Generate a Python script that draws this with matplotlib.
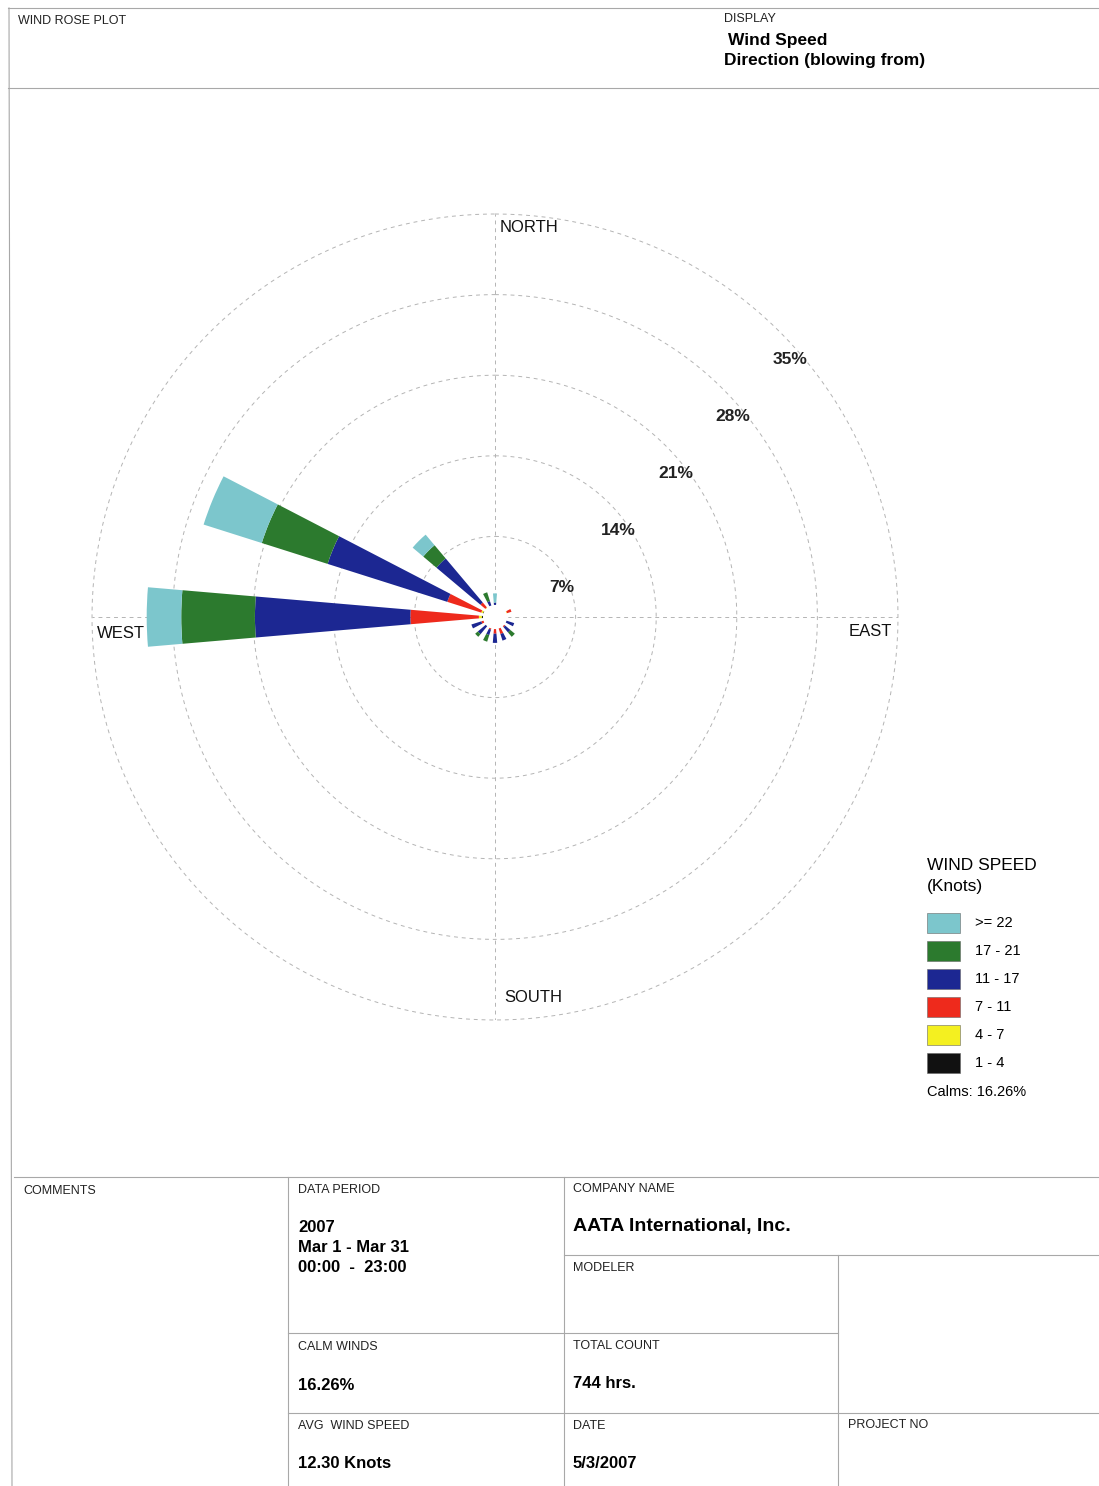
"""Wind rose plot page for March 2007 (16 directions, six speed classes)."""

import numpy as np
import matplotlib.pyplot as plt
from matplotlib.patches import Rectangle

# ---- data -------------------------------------------------------------
directions = ["N", "NNE", "NE", "ENE", "E", "ESE", "SE", "SSE",
              "S", "SSW", "SW", "WSW", "W", "WNW", "NW", "NNW"]
speed_bins = ["1 - 4", "4 - 7", "7 - 11", "11 - 17", "17 - 21", ">= 22"]

# frequency (%) per direction for each speed class
pct_1_4 = [0, 0, 0, 0, 0, 0, 0, 0, 0, 0, 0, 0, 0.10, 0.05, 0, 0]
pct_4_7 = [0, 0, 0, 0.05, 0, 0, 0, 0, 0, 0, 0, 0, 0.25, 0.15, 0.05, 0]
pct_7_11 = [0, 0, 0, 0.40, 0, 0, 0.1, 0.5, 0.4, 0.1, 0, 0.2, 5.95, 3.10, 0.55, 0]
pct_11_17 = [0.2, 0, 0, 0, 0, 0.7, 0.6, 0.6, 0.8, 0.5, 0.9, 0.9, 13.50, 10.90, 5.00, 0.4]
pct_17_21 = [0, 0, 0, 0, 0, 0, 0.5, 0, 0, 0.6, 0.3, 0, 6.40, 6.00, 1.50, 0.8]
pct_ge_22 = [0.8, 0, 0, 0, 0, 0, 0, 0, 0, 0, 0, 0, 3.00, 5.30, 1.20, 0]

ring_values = [7, 14, 21, 28, 35]
calms_pct = 16.26

colors = ["#111111", "#f4f020", "#ee2a1c", "#1c2792", "#2c7a2e", "#7cc6cc"]

W, H = 1099, 1486
fig = plt.figure(figsize=(W / 100, H / 100), dpi=100)
plt.rcParams["font.family"] = ["Liberation Sans", "DejaVu Sans"]

# page layer in pixel coordinates (frame lines and text blocks)
page = fig.add_axes([0, 0, 1, 1])
page.set_xlim(0, W)
page.set_ylim(H, 0)
page.axis("off")

line_kw = dict(color="#a8a8a8", lw=0.8)
page.plot([8, W], [8, 8], **line_kw)
page.plot([8, W], [88, 88], **line_kw)
page.plot([9, 12], [8, H], **line_kw)
# bottom table
page.plot([14, W], [1177, 1177], **line_kw)
page.plot([288, 288], [1177, H], **line_kw)
page.plot([564, 564], [1177, H], **line_kw)
page.plot([838, 838], [1255, H], **line_kw)
page.plot([564, W], [1255, 1255], **line_kw)
page.plot([288, 838], [1333, 1333], **line_kw)
page.plot([288, W], [1413, 1413], **line_kw)

small = dict(fontsize=9, va="center", ha="left", color="#222222")
value = dict(fontsize=12, fontweight="bold", va="center", ha="left")

page.text(18, 21, "WIND ROSE PLOT", **small)
page.text(724, 19, "DISPLAY", **small)
page.text(728, 41, "Wind Speed", fontsize=12.5, fontweight="bold", va="center")
page.text(724, 61, "Direction (blowing from)", fontsize=12.5, fontweight="bold", va="center")

page.text(23, 1191, "COMMENTS", **small)
page.text(298, 1190, "DATA PERIOD", **small)
page.text(298, 1227, "2007", **value)
page.text(298, 1247, "Mar 1 - Mar 31", **value)
page.text(298, 1267, "00:00  -  23:00", **value)
page.text(573, 1189, "COMPANY NAME", **small)
page.text(573, 1227, "AATA International, Inc.", fontsize=14, fontweight="bold", va="center")
page.text(573, 1268, "MODELER", **small)
page.text(298, 1347, "CALM WINDS", **small)
page.text(298, 1385, f"{calms_pct:.2f}%", **value)
page.text(573, 1346, "TOTAL COUNT", **small)
page.text(573, 1384, "744 hrs.", **value)
page.text(298, 1426, "AVG  WIND SPEED", **small)
page.text(298, 1463, "12.30 Knots", **value)
page.text(573, 1426, "DATE", **small)
page.text(573, 1463, "5/3/2007", **value)
page.text(848, 1425, "PROJECT NO", **small)

# ---- wind rose ----------------------------------------------------------
cx, cy, r_px = 495, 617, 403
r_max = ring_values[-1]
ax = fig.add_axes([(cx - r_px) / W, (H - cy - r_px) / H, 2 * r_px / W, 2 * r_px / H],
                  projection="polar")
ax.set_facecolor("none")
ax.set_theta_zero_location("N")
ax.set_theta_direction(-1)
ax.set_ylim(0, r_max)

hub = 1.05  # calm circle radius, in % units
theta = np.deg2rad(np.arange(len(directions)) * 22.5)
width = np.deg2rad(9.8)

series = [pct_1_4, pct_4_7, pct_7_11, pct_11_17, pct_17_21, pct_ge_22]
bottom = np.full(len(directions), hub)
for vals, col in zip(series, colors):
    vals = np.asarray(vals, dtype=float)
    ax.bar(theta, vals, width=width, bottom=bottom, color=col, edgecolor="none", zorder=3)
    bottom = bottom + vals

# grid: dashed rings and the four compass spokes
ax.grid(False)
ax.spines["polar"].set_visible(False)
ax.set_xticks([])
ax.set_yticks([])
ring_t = np.linspace(0, 2 * np.pi, 400)
for rv in ring_values:
    ax.plot(ring_t, np.full_like(ring_t, rv), ls=(0, (4, 4)), color="#b4b4b4", lw=0.7,
            zorder=1, clip_on=False)
for ang in [0, 90, 180, 270]:
    ax.plot([np.deg2rad(ang)] * 2, [hub, r_max], ls=(0, (4, 4)), color="#b4b4b4",
            lw=0.7, zorder=1)
ax.fill_between(ring_t, 0, hub, color="white", zorder=2)

for rv in ring_values:
    ax.annotate(f"{rv}%", xy=(np.pi / 4, rv), xytext=(7, -20), textcoords="offset points",
                ha="center", va="center", fontsize=12.5, fontweight="bold", color="#222222")

card = dict(fontsize=12, va="center", ha="left", color="#111111")
page.text(500, 228, "NORTH", **card)
page.text(97, 633, "WEST", **card)
page.text(849, 631, "EAST", **card)
page.text(504, 997, "SOUTH", **card)

# ---- legend ---------------------------------------------------------------
page.text(927, 865, "WIND SPEED", fontsize=12.5, va="center", ha="left")
page.text(927, 887, "(Knots)", fontsize=12.5, va="center", ha="left")
for i, (lab, col) in enumerate(zip(speed_bins[::-1], colors[::-1])):
    y0 = 913 + i * 28
    page.add_patch(Rectangle((927, y0), 33, 20, facecolor=col, edgecolor="#666666", lw=0.4))
    page.text(975, y0 + 10, lab, fontsize=10.5, va="center", ha="left")
page.text(927, 1092, f"Calms: {calms_pct:.2f}%", fontsize=10.5, va="center", ha="left")

fig.savefig("out.png", dpi=100)
